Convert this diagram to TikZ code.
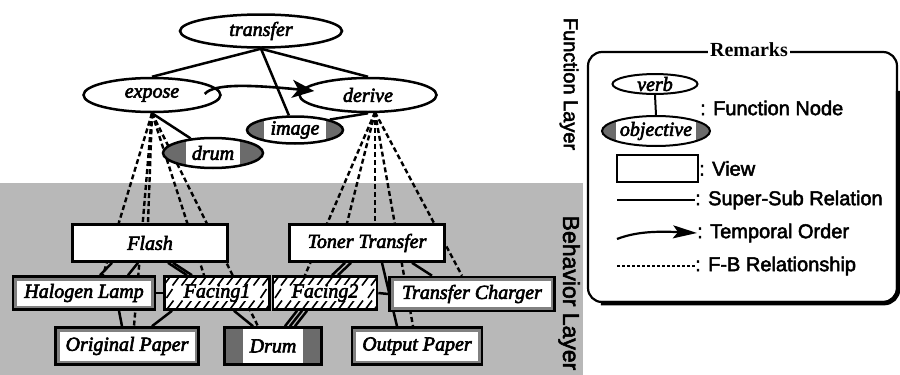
\documentclass[tikz,border=0pt]{standalone}
\usepackage{fontspec}
\setmainfont{Liberation Serif}
\setsansfont{Liberation Sans}
\newfontface\nodefont{Liberation Serif Italic}[FakeBold=3]
\newfontface\capfont{Liberation Sans}[FakeBold=2.5]
\newfontface\titlefont{Liberation Serif Bold}
\usetikzlibrary{shapes.geometric,calc,arrows.meta}
\pgfdeclarelayer{back}
\pgfdeclarelayer{mid}
\pgfsetlayers{back,mid,main}
\definecolor{bgshade}{gray}{0.72}
\definecolor{darkshade}{gray}{0.42}
\tikzset{
  lbl/.style={font=\fontsize{20}{20}\selectfont\nodefont},
  sans/.style={font=\fontsize{20}{20}\selectfont\capfont},
  verbnode/.style={ellipse, draw, line width=2.5pt, fill=white, inner sep=0pt, lbl},
  objnode/.style={ellipse, draw, line width=2.5pt, fill=darkshade, inner sep=0pt, lbl,
    path picture={\fill[white] ($(path picture bounding box.south)+(-#1,0)$) rectangle ($(path picture bounding box.north)+(#1,0)$);}},
  viewbox/.style={rectangle, draw, line width=2.6pt, fill=white, inner sep=0pt, lbl},
  dotview/.style={viewbox,
    path picture={\draw[bgshade!70!black, line width=8pt] (path picture bounding box.south west) rectangle (path picture bounding box.north east);}},
  darkview/.style={viewbox, fill=darkshade,
    path picture={\fill[white] ($(path picture bounding box.south)+(-#1,0)$) rectangle ($(path picture bounding box.north)+(#1,0)$);}},
  hatchview/.style={viewbox,
    path picture={
      \foreach \k in {0,...,12}{
        \draw[line width=1.6pt] ($(path picture bounding box.north west)+(\k*9-1,9)$) -- ++(6,-8);
        \draw[line width=1.6pt] ($(path picture bounding box.south west)+(\k*9+3,-1)$) -- ++(6,-8);
      }
      \draw[line width=1.6pt] ($(path picture bounding box.west)+(2,5)$) -- ++(6,-9);
      \draw[line width=1.6pt] ($(path picture bounding box.east)+(-9,5)$) -- ++(6,-9);
      \fill[white] ($(path picture bounding box.center)+(-33,-8)$) rectangle ($(path picture bounding box.center)+(33,8)$);
    }},
  supsub/.style={line width=2.5pt},
  fb/.style={line width=2.4pt, dash pattern=on 5pt off 3pt},
  temporal/.style={line width=2.6pt, -{Stealth[length=22pt, width=18pt, inset=6pt]}},
}
\begin{document}
\begin{tikzpicture}[x=1pt, y=-1pt]
\useasboundingbox (0,0) rectangle (900,375);

% ---- behaviour layer background
\begin{pgfonlayer}{back}
  \fill[bgshade] (0,183) rectangle (583,375);
\end{pgfonlayer}

% ---- function layer
\node[verbnode, minimum width=162pt, minimum height=33pt] (transfer) at (261,31) {transfer};
\node[verbnode, minimum width=137pt, minimum height=34pt] (expose) at (152,95) {expose};
\node[verbnode, minimum width=137pt, minimum height=34pt] (derive) at (368,95) {derive};
\node[objnode=31, minimum width=96pt, minimum height=27pt] (image) at (295,130) {image};
\node[objnode=27, minimum width=100pt, minimum height=30pt] (drum) at (213,153) {drum};

\draw[supsub] (transfer.south) -- (expose.north);
\draw[supsub] (transfer.south) -- (derive.north);
\draw[supsub] (transfer.south) -- (image);
\draw[supsub] (expose.south) -- (drum);
\draw[supsub] (derive.south) -- (image.north east);
\draw[temporal] ($(expose.east)+(-17,-1)$) .. controls ($(expose.east)+(-8,-12)$) and ($(derive.west)+(-45,-10)$) .. ($(derive.west)+(16,-4)$);

% ---- behaviour layer
\node[viewbox, minimum width=155pt, minimum height=37pt] (flash) at (150,243) {Flash};
\node[viewbox, minimum width=155pt, minimum height=37pt] (toner) at (367,243) {Toner Transfer};
\node[dotview, minimum width=142pt, minimum height=33pt] (lamp) at (84,293) {Halogen Lamp};
\node[hatchview, minimum width=105pt, minimum height=33pt] (facingA) at (217,293) {Facing1};
\node[hatchview, minimum width=104pt, minimum height=33pt] (facingB) at (325,293) {Facing2};
\node[dotview, minimum width=165pt, minimum height=34pt] (charger) at (472,294) {Transfer Charger};
\node[dotview, minimum width=143pt, minimum height=37pt] (orig) at (127,346) {Original Paper};
\node[darkview=30, minimum width=97pt, minimum height=37pt] (drumv) at (273,346) {Drum};
\node[dotview, minimum width=130pt, minimum height=37pt] (outp) at (417,346) {Output Paper};

\coordinate (efoot) at (expose.south);
\coordinate (dfoot) at ($(derive.south)+(7,-1)$);

\begin{pgfonlayer}{mid}
  % F-B relationships
  \draw[fb] (efoot) -- ($(lamp.north)+(19,0)$);
  \draw[fb] (efoot) -- ($(orig.north)+(7,0)$);
  \draw[fb] (efoot) -- ($(flash.north)+(-2,0)$);
  \draw[fb] (efoot) -- ($(facingA.north)+(-13,0)$);
  \draw[fb] (efoot) -- ($(drumv.north)+(-15,0)$);
  \draw[fb] (dfoot) -- ($(facingB.north)+(-20,0)$);
  \draw[fb] (dfoot) -- ($(toner.north)+(-20,0)$);
  \draw[fb] (dfoot) -- ($(toner.north)+(8,0)$);
  \draw[fb] (dfoot) -- ($(outp.north)+(-4,0)$);
  \draw[fb] (dfoot) -- ($(charger.north)+(-10,0)$);
  % super-sub relations between views
  \draw[supsub] ($(flash.south)+(-38,0)$) -- ($(lamp.north)+(16,0)$);
  \draw[supsub] ($(flash.south)+(-12,0)$) -- ($(lamp.north)+(44,0)$);
  \draw[supsub] ($(flash.south)+(18,0)$) -- ($(facingA.north)+(-30,0)$);
  \draw[supsub] ($(flash.south)+(23,0)$) -- ($(facingA.north)+(-25,0)$);
  \draw[supsub] (lamp.east) -- (facingA.west);
  \draw[supsub] ($(lamp.south)+(35,0)$) -- ($(orig.north)+(-5,0)$);
  \draw[supsub] ($(facingA.south)+(-45,0)$) -- ($(orig.north)+(25,0)$);
  \draw[supsub] ($(facingA.south)+(17,0)$) -- ($(drumv.north)+(-20,0)$);
  \draw[supsub] ($(facingB.south)+(-28,0)$) -- ($(drumv.north)+(12,0)$);
  \draw[supsub] ($(facingB.south)+(-23,0)$) -- ($(drumv.north)+(17,0)$);
  \draw[supsub] ($(facingB.south)+(-18,0)$) -- ($(drumv.north)+(22,0)$);
  \draw[supsub] ($(toner.south)+(-22,0)$) -- ($(facingB.north)+(7,0)$);
  \draw[supsub] ($(toner.south)+(-16,0)$) -- ($(facingB.north)+(13,0)$);
  \draw[supsub] ($(toner.south)+(15,0)$) -- ($(outp.north)+(-20,0)$);
  \draw[supsub] ($(toner.south)+(45,0)$) -- ($(charger.north)+(-40,0)$);
  \draw[supsub] (facingB.east) -- (charger.west);
\end{pgfonlayer}

% ---- layer captions
\node[sans, rotate=-90] (flayer) at (569,84) {Function Layer};
\node[font=\fontsize{23}{23}\selectfont\capfont, rotate=-90] (blayer) at (569,293) {Behavior Layer};

% ---- remarks box
\node[draw, line width=2.2pt, rounded corners=14pt, minimum width=309pt, minimum height=250pt] (remarks) at (742.5,177) {};
\draw[line width=4.5pt, rounded corners=14pt] ($(remarks.south west)+(14,0)$) -- (remarks.south east) -- ($(remarks.north east)+(0,40)$);
\node[fill=white, inner sep=2pt, font=\fontsize{20}{20}\selectfont\titlefont] (remt) at (749,50) {Remarks};

\node[verbnode, line width=2pt, minimum width=85pt, minimum height=17pt] (lverb) at (655,84) {verb};
\node[objnode=40, line width=2pt, minimum width=108pt, minimum height=30pt] (lobj) at (656,131) {objective};
\draw[line width=2pt] (lverb.south) -- (lobj.north);
\node[sans, anchor=west, inner sep=0pt] (tfn) at (700,108) {: Function Node};

\node[viewbox, line width=2pt, minimum width=81pt, minimum height=27pt] (lview) at (657.5,168.5) {};
\node[sans, anchor=west, inner sep=0pt] (tview) at (lview.east) {: View};

\coordinate (ssa) at (617,200);
\coordinate (ssb) at (695,200);
\draw[supsub] (ssa) -- (ssb);
\node[sans, anchor=west, inner sep=0pt] (tss) at (ssb) {: Super-Sub Relation};

\coordinate (toa) at (617,239);
\coordinate (tob) at (697,233);
\draw[line width=2.2pt, -{Stealth[length=24pt, width=13pt, inset=5pt]}] (toa) .. controls (635,232) and (655,231) .. (tob);
\node[sans, anchor=west, inner sep=0pt] (tto) at (tob) {: Temporal Order};

\coordinate (fba) at (617,266);
\coordinate (fbb) at (695,266);
\draw[line width=1.4pt, dash pattern=on 3pt off 2pt] (fba) -- (fbb);
\node[sans, anchor=west, inner sep=0pt] (tfb) at (fbb) {: F-B Relationship};
\end{tikzpicture}
\end{document}
